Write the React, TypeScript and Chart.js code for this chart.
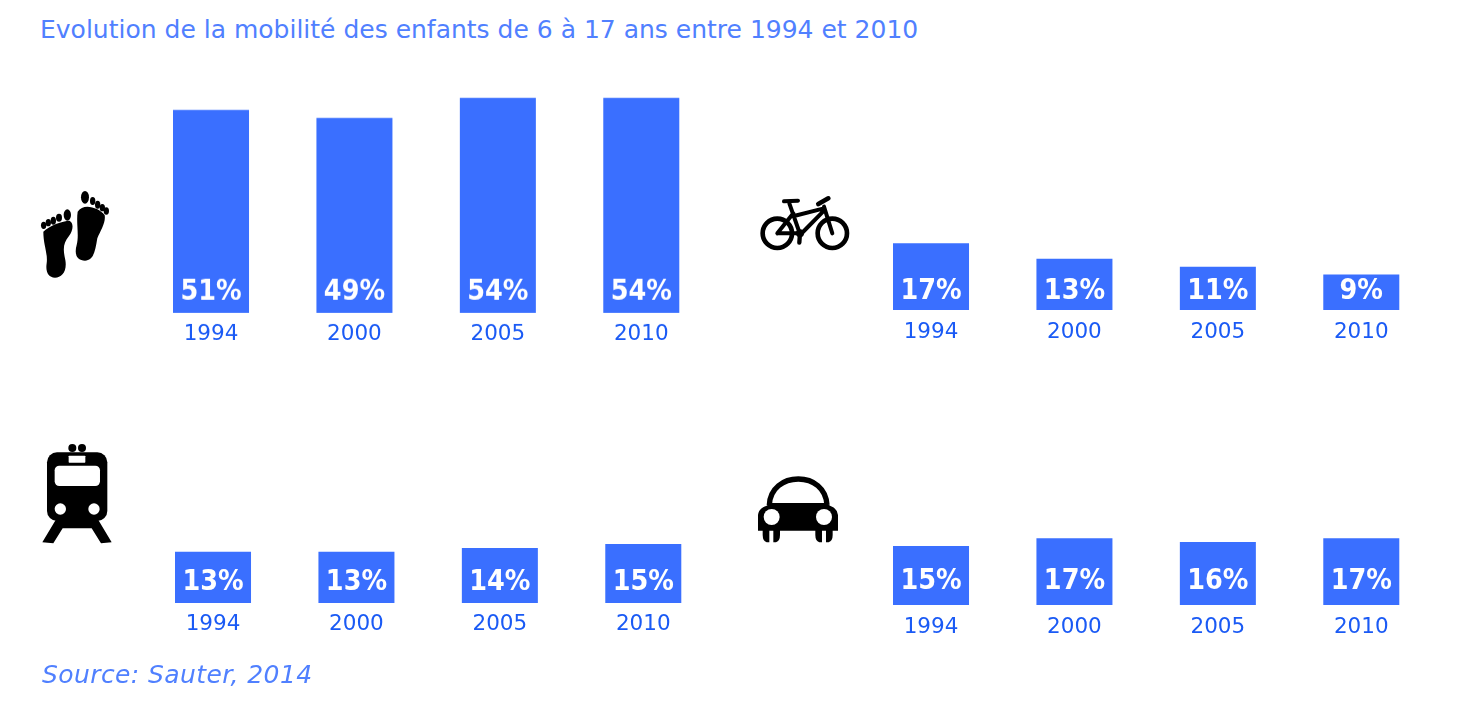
import { useEffect, useRef } from "react";
import { Chart, registerables } from "chart.js";

Chart.register(...registerables);

const years = ["1994", "2000", "2005", "2010"];
const footValues = [51, 49, 54, 54];
const bikeValues = [17, 13, 11, 9];
const trainValues = [13, 13, 14, 15];
const carValues = [15, 17, 16, 17];

const BAR_BLUE = "#3a6fff";
const TICK_BLUE = "#1a5af5";
const TEXT_BLUE = "#5080ff";
const FONT = "'DejaVu Sans', Verdana, sans-serif";

// draws the white percentage inside each bar, at a fixed distance above the base
const valueLabels = {
  id: "valueLabels",
  afterDatasetsDraw(chart: any, _args: any, opts: any) {
    const { ctx } = chart;
    const meta = chart.getDatasetMeta(0);
    const base = chart.scales.y.getPixelForValue(0);
    ctx.fillStyle = "#ffffff";
    ctx.font = `bold 27.5px ${FONT}`;
    ctx.textAlign = "center";
    ctx.textBaseline = "middle";
    meta.data.forEach((bar: any, i: number) => {
      ctx.save();
      ctx.translate(bar.x, base - opts.offset);
      // the reference's label glyphs are narrower than DejaVu Bold
      ctx.scale(0.93, 1);
      ctx.fillText(chart.data.datasets[0].data[i] + "%", 0, 0);
      ctx.restore();
    });
  },
};

interface PanelProps {
  values: number[];
  left: number;
  base: number;
  pxPerUnit: number;
  labelOffset: number;
  tickPadding: number;
}

const AXIS_HEIGHT = 40;
const Y_MAX = 60;

function Panel({ values, left, base, pxPerUnit, labelOffset, tickPadding }: PanelProps) {
  const canvasRef = useRef<HTMLCanvasElement>(null);
  const plotHeight = pxPerUnit * Y_MAX;

  useEffect(() => {
    if (!canvasRef.current) return;
    const chart = new Chart(canvasRef.current, {
      type: "bar",
      data: {
        labels: years,
        datasets: [{
          data: values,
          backgroundColor: BAR_BLUE,
          borderWidth: 0,
          barPercentage: 0.53,
          categoryPercentage: 1,
        }],
      },
      options: {
        animation: false,
        responsive: false,
        layout: { padding: { left: 0.3 } },
        plugins: {
          legend: { display: false },
          tooltip: { enabled: false },
          valueLabels: { offset: labelOffset },
        } as any,
        scales: {
          x: {
            grid: { display: false },
            border: { display: false },
            afterFit: (scale: any) => { scale.height = AXIS_HEIGHT; },
            ticks: {
              color: TICK_BLUE,
              font: { family: FONT, size: 21.5 },
              padding: tickPadding,
              maxRotation: 0,
            },
          },
          y: { display: false, min: 0, max: Y_MAX },
        },
      },
      plugins: [valueLabels],
    });
    return () => chart.destroy();
  }, [values, labelOffset, tickPadding]);

  return (
    <canvas
      ref={canvasRef}
      width={574}
      height={plotHeight + AXIS_HEIGHT}
      style={{ position: "absolute", left, top: base - plotHeight, width: 574, height: plotHeight + AXIS_HEIGHT }}
    />
  );
}

function Icons() {
  return (
    <svg width={1464} height={724} style={{ position: "absolute", left: 0, top: 0 }}>
      {/* feet */}
      <g transform="translate(20 170) scale(0.3333)" fill="#000">
        <path d="M70 185 C85 168 130 152 148 152 C162 158 160 182 147 198 C130 220 128 235 136 270 C142 305 125 323 105 323 C85 323 76 305 80 280 C84 250 70 225 70 185Z" />
        <ellipse cx={142} cy={135} rx={11} ry={17} />
        <ellipse cx={117} cy={143} rx={9} ry={12} />
        <ellipse cx={100} cy={152} rx={8} ry={12} />
        <ellipse cx={85} cy={158} rx={8} ry={11} />
        <ellipse cx={71} cy={166} rx={8} ry={11} />
        <path d="M173 125 C190 98 235 112 254 135 C258 158 242 180 232 205 C226 240 222 271 195 272 C168 271 163 250 170 225 C178 195 168 160 173 125Z" />
        <ellipse cx={195} cy={82} rx={12} ry={19} />
        <ellipse cx={218} cy={93} rx={8} ry={12} />
        <ellipse cx={233} cy={104} rx={8} ry={12} />
        <ellipse cx={247} cy={113} rx={8} ry={11} />
        <ellipse cx={259} cy={123} rx={8} ry={11} />
      </g>
      {/* bike */}
      <g transform="translate(750 180) scale(0.3333)" fill="none" stroke="#000" strokeLinecap="round">
        <circle cx={82} cy={160} r={44} strokeWidth={14} />
        <circle cx={247} cy={160} r={44} strokeWidth={14} />
        <path d="M118 70 L150 162 M132 108 L222 85 M222 92 L150 165 M82 160 L150 160 M82 160 L130 100 M222 80 L247 160" strokeWidth={12} />
        <path d="M205 72 L235 55" strokeWidth={14} />
        <path d="M102 64 L144 62" strokeWidth={12} />
        <path d="M150 160 L148 188" strokeWidth={13} />
        <circle cx={150} cy={160} r={12} fill="#000" stroke="none" />
      </g>
      {/* train */}
      <g transform="translate(20 435) scale(0.3333)">
        <path d="M107 255 L67 322 L100 325 L128 280 H215 L243 325 L275 322 L235 255Z" fill="#000" />
        <rect x={81} y={52} width={181} height={206} rx={30} fill="#000" />
        <rect x={104} y={92} width={136} height={61} rx={14} fill="#fff" />
        <rect x={146} y={62} width={50} height={21} rx={2} fill="#fff" />
        <circle cx={121} cy={222} r={17} fill="#fff" />
        <circle cx={222} cy={222} r={17} fill="#fff" />
        <circle cx={157} cy={39} r={12} fill="#000" />
        <circle cx={186} cy={39} r={12} fill="#000" />
      </g>
      {/* car */}
      <g transform="translate(750 465) scale(0.3333)">
        <path d="M58 120 C60 70 100 42 145 42 C190 42 228 70 231 120" fill="none" stroke="#000" strokeWidth={16} />
        <path d="M24 150 Q26 130 50 122 L60 114 H230 L240 122 Q262 130 264 150 V197 H24Z" fill="#000" />
        <path d="M38 195 H58 V232 H50 Q38 228 38 210Z M70 195 H90 V210 Q90 228 78 232 H70Z" fill="#000" />
        <path d="M196 195 H216 V232 H208 Q196 228 196 210Z M228 195 H248 V210 Q248 228 236 232 H228Z" fill="#000" />
        <circle cx={65} cy={156} r={24} fill="#fff" />
        <circle cx={222} cy={156} r={24} fill="#fff" />
      </g>
    </svg>
  );
}

export default function App() {
  return (
    <div style={{ position: "absolute", left: 0, top: 0, width: 1464, height: 724, background: "#fff", overflow: "hidden", fontFamily: FONT }}>
      <div style={{ position: "absolute", left: 40, top: 14, fontSize: 25, lineHeight: "32px", color: TEXT_BLUE, whiteSpace: "nowrap" }}>
        Evolution de la mobilité des enfants de 6 à 17 ans entre 1994 et 2010
      </div>
      <Panel values={footValues} left={139} base={313} pxPerUnit={3.98} labelOffset={20} tickPadding={1} />
      <Panel values={bikeValues} left={859} base={310} pxPerUnit={3.94} labelOffset={18} tickPadding={2} />
      <Panel values={trainValues} left={141} base={603} pxPerUnit={3.94} labelOffset={20} tickPadding={1} />
      <Panel values={carValues} left={859} base={605} pxPerUnit={3.94} labelOffset={23} tickPadding={2} />
      <Icons />
      <div style={{ position: "absolute", left: 42, top: 659, fontSize: 25, letterSpacing: 0.4, lineHeight: "32px", fontStyle: "italic", color: TEXT_BLUE, whiteSpace: "nowrap" }}>
        Source: Sauter, 2014
      </div>
    </div>
  );
}
